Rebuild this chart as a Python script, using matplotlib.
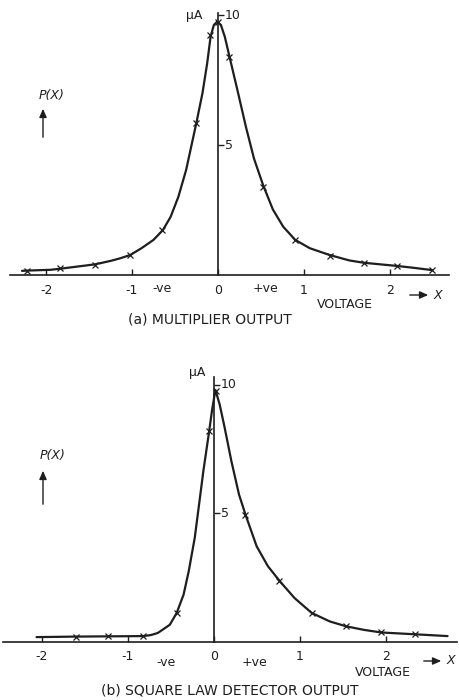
import matplotlib
matplotlib.use("Agg")
import matplotlib.pyplot as plt

# ---------------- data ----------------
# (a) multiplier output: smooth curve
a_curve_x = [-2.28, -2.22, -1.95, -1.84, -1.43, -1.24, -1.14, -1.02, -0.89, -0.75,
             -0.64, -0.55, -0.46, -0.37, -0.31, -0.25, -0.18, -0.125, -0.085, -0.047,
             -0.01, 0.035, 0.08, 0.14, 0.236, 0.326, 0.42, 0.527, 0.64, 0.76,
             0.90, 1.07, 1.30, 1.53, 1.70, 2.08, 2.27, 2.49]
a_curve_y = [0.16, 0.17, 0.20, 0.24, 0.41, 0.55, 0.64, 0.77, 1.03, 1.35,
             1.73, 2.24, 3.01, 4.04, 4.95, 5.86, 6.99, 8.14, 9.17, 9.62,
             9.74, 9.62, 9.17, 8.33, 6.99, 5.70, 4.48, 3.45, 2.52, 1.86,
             1.35, 1.03, 0.77, 0.56, 0.47, 0.35, 0.28, 0.19]
# (a) measured points (crosses)
a_pts_x = [-2.22, -1.84, -1.43, -1.02, -0.65, -0.25, -0.09, 0.0, 0.13, 0.53,
           0.90, 1.30, 1.70, 2.08, 2.49]
a_pts_y = [0.17, 0.26, 0.40, 0.77, 1.73, 5.86, 9.23, 9.74, 8.40, 3.40,
           1.35, 0.75, 0.45, 0.34, 0.19]

# (b) square law detector output: smooth curve
b_curve_x = [-2.06, -1.60, -1.23, -0.82, -0.73, -0.65, -0.51, -0.43, -0.35, -0.29,
             -0.22, -0.17, -0.12, -0.055, -0.02, 0.02, 0.07, 0.128, 0.206, 0.295,
             0.37, 0.50, 0.63, 0.77, 0.94, 1.14, 1.35, 1.54, 1.75, 1.95, 2.34, 2.72]
b_curve_y = [0.19, 0.21, 0.22, 0.23, 0.27, 0.35, 0.67, 1.13, 1.84, 2.75,
             4.05, 5.34, 6.64, 8.13, 8.98, 9.80, 9.23, 8.33, 7.03, 5.73,
             4.95, 3.72, 2.95, 2.36, 1.71, 1.13, 0.80, 0.61, 0.47, 0.37, 0.30, 0.23]
# (b) measured points (crosses)
b_pts_x = [-1.60, -1.23, -0.82, -0.43, -0.05, 0.03, 0.37, 0.76, 1.14, 1.54, 1.95, 2.34]
b_pts_y = [0.21, 0.22, 0.23, 1.13, 8.20, 9.75, 4.93, 2.38, 1.13, 0.61, 0.37, 0.30]

x_ticks = [-2, -1, 0, 1, 2]
x_tick_labels = ["-2", "-1", "0", "1", "2"]
y_ticks = [5, 10]
y_tick_labels = ["5", "10"]
y_unit = "\u03bcA"
y_name = "P(X)"
x_name = "VOLTAGE"
neg_label = "-ve"
pos_label = "+ve"
captions = ["(a) MULTIPLIER OUTPUT", "(b) SQUARE LAW DETECTOR OUTPUT"]

INK = "#1e1e1e"
plt.rcParams["font.family"] = ["DejaVu Sans"]

W, H = 459, 700
fig = plt.figure(figsize=(W / 100, H / 100), dpi=100)


def px_axes(left, right, base, top):
    return fig.add_axes([left / W, (H - base) / H, (right - left) / W, (base - top) / H])


def panel(ax, cx, cy, px_, py_, xlim, ylim, caption, cap_px, voltage_px, arrow_px,
          unit_px, pname_px, parrow_px, ve_off):
    ax.set_xlim(*xlim)
    ax.set_ylim(*ylim)
    ax.patch.set_alpha(0)
    for s in ("top", "right"):
        ax.spines[s].set_visible(False)
    ax.spines["left"].set_position(("data", 0))
    for s in ("left", "bottom"):
        ax.spines[s].set_linewidth(1.2)
        ax.spines[s].set_color(INK)
    ax.plot(cx, cy, color=INK, lw=1.6, solid_capstyle="round", solid_joinstyle="round")
    ax.plot(px_, py_, ls="none", marker="x", ms=4.5, mew=0.9, color=INK)

    ax.set_xticks(x_ticks)
    ax.set_yticks(y_ticks)
    ax.tick_params(axis="both", direction="in", length=4, width=1.0, color=INK,
                   labelbottom=False, labelleft=False)
    for xv, lab in zip(x_ticks, x_tick_labels):
        ax.annotate(lab, (xv, 0), xytext=(0, -15), textcoords="offset pixels",
                    ha="center", va="center", fontsize=9, color=INK)
    for yv, lab in zip(y_ticks, y_tick_labels):
        ax.annotate(lab, (0, yv), xytext=(7, 0), textcoords="offset pixels",
                    ha="left", va="center", fontsize=9, color=INK)
    # -ve / +ve
    ax.annotate(neg_label, (ve_off[0], 0), xytext=(0, ve_off[2]), textcoords="offset pixels",
                ha="center", va="center", fontsize=9, color=INK)
    ax.annotate(pos_label, (ve_off[1], 0), xytext=(0, ve_off[2]), textcoords="offset pixels",
                ha="center", va="center", fontsize=9, color=INK)

    # figure-pixel annotations
    def fxy(p):
        return (p[0] / W, 1 - p[1] / H)

    fig.text(*fxy(unit_px), y_unit, ha="center", va="center", fontsize=9, color=INK)
    fig.text(*fxy(pname_px), y_name, ha="center", va="center", fontsize=9,
             style="italic", color=INK)
    fig.add_artist(matplotlib.patches.FancyArrowPatch(
        fxy(parrow_px[0]), fxy(parrow_px[1]), transform=fig.transFigure,
        arrowstyle="-|>,head_length=5,head_width=2.2", lw=1.0, color=INK))
    fig.text(*fxy(voltage_px), x_name, ha="center", va="center", fontsize=9, color=INK)
    fig.add_artist(matplotlib.patches.FancyArrowPatch(
        fxy(arrow_px[0]), fxy(arrow_px[1]), transform=fig.transFigure,
        arrowstyle="-|>,head_length=5,head_width=2.2", lw=1.0, color=INK))
    fig.text(*fxy(arrow_px[2]), "X", ha="left", va="center", fontsize=9,
             style="italic", color=INK)
    fig.text(*fxy(cap_px), caption, ha="center", va="center", fontsize=10, color=INK)


ax1 = px_axes(10, 449, 275, 13)
panel(ax1, a_curve_x, a_curve_y, a_pts_x, a_pts_y, (-2.42, 2.69), (0, 10.08),
      captions[0], (210, 320), (345, 304),
      ((407, 295), (431, 295), (434, 295)),
      (194, 15), (52, 95), ((43, 140), (43, 106)), (-0.65, 0.55, -13))

ax2 = px_axes(3, 457, 642, 377)
panel(ax2, b_curve_x, b_curve_y, b_pts_x, b_pts_y, (-2.45, 2.83), (0, 10.3),
      captions[1], (230, 691), (383, 673),
      ((421, 661), (444, 661), (447, 661)),
      (197, 372), (53, 456), ((43, 507), (43, 468)), (-0.55, 0.48, -20))

fig.savefig("out.png", dpi=100)
